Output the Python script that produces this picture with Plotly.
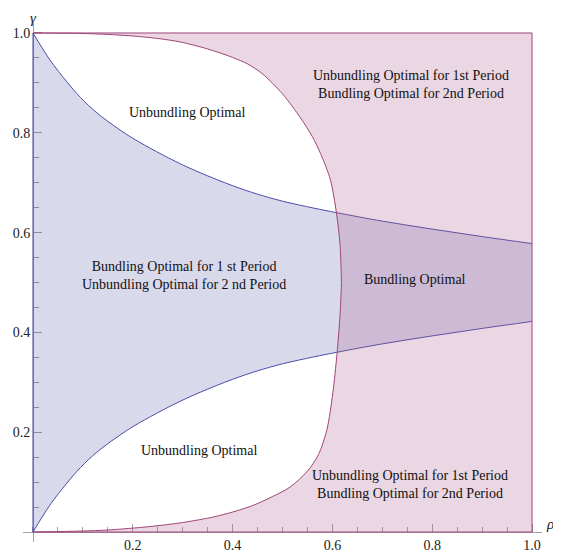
import plotly.graph_objects as go

# ---- data ----
# blue region: bundling optimal in 1st period (between the two blue curves)
rho_blue = [0.0, 0.034, 0.068, 0.095, 0.128, 0.171, 0.20, 0.248, 0.295, 0.335,
            0.40, 0.45, 0.50, 0.563, 0.608, 0.70, 0.80, 0.90, 1.00]
gamma_blue_upper = [1.000, 0.946, 0.902, 0.871, 0.840, 0.808, 0.789, 0.762, 0.738, 0.720,
                    0.694, 0.677, 0.663, 0.649, 0.640, 0.623, 0.607, 0.592, 0.578]
gamma_blue_lower = [0.000, 0.054, 0.098, 0.129, 0.160, 0.192, 0.211, 0.238, 0.262, 0.280,
                    0.306, 0.323, 0.337, 0.351, 0.360, 0.377, 0.393, 0.408, 0.422]

# purple region: bundling optimal in 2nd period (right of the purple curve)
rho_purple_upper = [0.0, 0.10, 0.15, 0.20, 0.25, 0.295, 0.35, 0.40, 0.43, 0.46,
                    0.50, 0.536, 0.56, 0.576, 0.596, 0.608, 0.615, 0.618]
gamma_purple_upper = [1.000, 0.999, 0.997, 0.994, 0.989, 0.982, 0.968, 0.951, 0.938, 0.918,
                      0.878, 0.830, 0.792, 0.759, 0.706, 0.640, 0.580, 0.505]
rho_purple_lower = [0.618, 0.615, 0.609, 0.601, 0.589, 0.572, 0.550, 0.515, 0.48, 0.44,
                    0.40, 0.361, 0.30, 0.235, 0.15, 0.10, 0.0]
gamma_purple_lower = [0.495, 0.430, 0.355, 0.280, 0.205, 0.155, 0.122, 0.090, 0.071, 0.053,
                      0.040, 0.030, 0.019, 0.011, 0.004, 0.002, 0.0]

RHO_MIN, RHO_MAX = 0.0, 1.0
GAMMA_MIN, GAMMA_MAX = 0.0, 1.0

tick_vals = [0.2, 0.4, 0.6, 0.8, 1.0]
tick_text = ["0.2", "0.4", "0.6", "0.8", "1.0"]

labels = [
    ("Unbundling Optimal", 0.308, 0.840),
    ("Unbundling Optimal for 1st Period<br>Bundling Optimal for 2nd Period", 0.758, 0.896),
    ("Bundling Optimal for 1 st Period<br>Unbundling Optimal for 2 nd Period", 0.302, 0.514),
    ("Bundling Optimal", 0.766, 0.506),
    ("Unbundling Optimal", 0.333, 0.1625),
    ("Unbundling Optimal for 1st Period<br>Bundling Optimal for 2nd Period", 0.755, 0.096),
]

FONT = "Liberation Serif, Times New Roman, serif"
BLUE_FILL = "rgba(60,60,160,0.195)"
BLUE_LINE = "#4d4da8"
PURPLE_FILL = "rgba(171,95,143,0.25)"
PURPLE_LINE = "#a0457a"

fig = go.Figure()

# blue region: fill between lower and upper curves
fig.add_trace(go.Scatter(x=rho_blue, y=gamma_blue_lower, mode="lines",
                         line=dict(color=BLUE_LINE, width=1, shape="spline"),
                         hoverinfo="skip", showlegend=False))
fig.add_trace(go.Scatter(x=rho_blue, y=gamma_blue_upper, mode="lines", fill="tonexty",
                         fillcolor=BLUE_FILL,
                         line=dict(color=BLUE_LINE, width=1, shape="spline"),
                         hoverinfo="skip", showlegend=False))
# blue region edge on the left plot-range boundary
fig.add_trace(go.Scatter(x=[RHO_MIN, RHO_MIN], y=[GAMMA_MIN, GAMMA_MAX], mode="lines",
                         line=dict(color=BLUE_LINE, width=1),
                         hoverinfo="skip", showlegend=False))

# purple region: fill from the curve to the right edge
fig.add_trace(go.Scatter(x=[RHO_MAX, RHO_MAX], y=[GAMMA_MAX, GAMMA_MIN], mode="lines",
                         line=dict(color=PURPLE_LINE, width=1),
                         hoverinfo="skip", showlegend=False))
fig.add_trace(go.Scatter(x=rho_purple_upper + rho_purple_lower,
                         y=gamma_purple_upper + gamma_purple_lower,
                         mode="lines", fill="tonextx", fillcolor=PURPLE_FILL,
                         line=dict(color=PURPLE_LINE, width=1, shape="spline", smoothing=0.8),
                         hoverinfo="skip", showlegend=False))
# purple region edges on top and bottom of the plot range
fig.add_trace(go.Scatter(x=[RHO_MIN, RHO_MAX], y=[GAMMA_MAX, GAMMA_MAX], mode="lines",
                         line=dict(color=PURPLE_LINE, width=1),
                         hoverinfo="skip", showlegend=False))
fig.add_trace(go.Scatter(x=[RHO_MIN, RHO_MAX], y=[GAMMA_MIN, GAMMA_MIN], mode="lines",
                         line=dict(color=PURPLE_LINE, width=1),
                         hoverinfo="skip", showlegend=False))

annotations = []
for txt, x, y in labels:
    annotations.append(dict(text=txt, x=x, y=y, xref="x", yref="y", showarrow=False,
                            font=dict(family=FONT, size=14, color="#111")))
annotations.append(dict(text="<i>γ</i>", x=0.0193, y=1.010, xref="paper", yref="paper",
                        xanchor="center", yanchor="middle",
                        showarrow=False, font=dict(family=FONT, size=15, color="#222")))
annotations.append(dict(text="<i>ρ</i>", x=1.004, y=0.034, xref="paper", yref="paper",
                        xanchor="left", yanchor="middle",
                        showarrow=False, font=dict(family=FONT, size=15, color="#222")))

pad = 0.02
span = (RHO_MAX - RHO_MIN) + 2 * pad
pos0 = pad / span

axis_common = dict(
    showgrid=False, zeroline=False, showline=True, linecolor="#a0a0a0", linewidth=1,
    ticks="inside", ticklen=8, tickcolor="#a0a0a0", tickwidth=1,
    tickvals=tick_vals, ticktext=tick_text,
    tickfont=dict(family=FONT, size=14, color="#222"),
    minor=dict(dtick=0.05, tick0=0, ticks="inside", ticklen=5, tickcolor="#a0a0a0"),
    anchor="free", layer="below traces", automargin=False,
)

# the page body adds an 8px offset, so the figure is 8px smaller and margins shifted
fig.update_layout(
    width=553, height=550,
    margin=dict(l=15, r=19, t=15, b=16),
    paper_bgcolor="white", plot_bgcolor="white",
    xaxis=dict(range=[RHO_MIN - pad, RHO_MAX + pad], position=pos0, **axis_common),
    yaxis=dict(range=[GAMMA_MIN - pad, GAMMA_MAX + pad], position=pos0, **axis_common),
    annotations=annotations,
    showlegend=False,
)

fig.write_html("out.html")
